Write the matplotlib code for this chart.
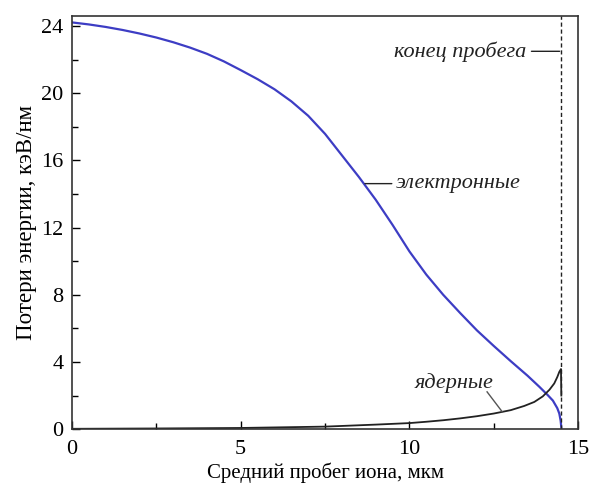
import matplotlib
matplotlib.use("Agg")
import matplotlib.pyplot as plt
from matplotlib.ticker import MultipleLocator

plt.rcParams['font.family'] = ['Liberation Serif', 'DejaVu Serif']

# Electronic stopping (keV/nm) vs mean ion range (um)
x_el = [0.0, 0.5, 1.0, 1.5, 2.0, 2.5, 3.0, 3.5, 4.0, 4.5, 5.0, 5.5, 6.0, 6.5,
        7.0, 7.5, 8.0, 8.5, 9.0, 9.5, 10.0, 10.5, 11.0, 11.5, 12.0, 12.5,
        13.0, 13.5, 13.85, 14.1, 14.25, 14.38, 14.44, 14.48, 14.5]
y_el = [24.22, 24.10, 23.95, 23.77, 23.56, 23.32, 23.04, 22.72, 22.35, 21.90,
        21.38, 20.84, 20.24, 19.52, 18.66, 17.58, 16.30, 15.02, 13.66, 12.16,
        10.58, 9.20, 8.00, 6.92, 5.88, 4.95, 4.05, 3.18, 2.52, 2.02, 1.70,
        1.25, 0.93, 0.50, 0.10]

# Nuclear stopping
x_nu = [0.0, 2.5, 5.0, 7.5, 9.0, 10.0, 10.5, 11.0, 11.5, 12.0, 12.5, 13.0,
        13.4, 13.7, 13.95, 14.15, 14.29, 14.38, 14.44, 14.49, 14.5]
y_nu = [0.02, 0.04, 0.07, 0.15, 0.27, 0.36, 0.44, 0.53, 0.64, 0.77, 0.93,
        1.13, 1.38, 1.62, 1.95, 2.35, 2.72, 3.10, 3.41, 3.58, 2.0]

range_end = 14.5

xlabel = "Средний пробег иона, мкм"
ylabel = "Потери энергии, кэВ/нм"
lbl_end = "конец пробега"
lbl_el = "электронные"
lbl_nu = "ядерные"

fig = plt.figure(figsize=(5.9, 4.86), dpi=100)
ax = fig.add_axes([0.122, 0.117, 0.858, 0.850])

ax.plot(x_el, y_el, color='#3d3dc4', lw=1.6)
ax.plot(x_nu, y_nu, color='#222222', lw=1.3)
ax.axvline(range_end, color='#222222', lw=1.0, ls=(0, (3, 2)))

ax.set_xlim(0, 15)
ax.set_ylim(0, 24.6)
ax.xaxis.set_major_locator(MultipleLocator(5))
ax.xaxis.set_minor_locator(MultipleLocator(2.5))
ax.yaxis.set_major_locator(MultipleLocator(4))
ax.yaxis.set_minor_locator(MultipleLocator(2))
ax.tick_params(which='both', direction='in', top=False, right=False,
               labelsize=16, width=1.0)
ax.tick_params(axis='x', which='both', pad=8)
ax.tick_params(axis='y', which='both', pad=6)
ax.tick_params(which='major', length=6)
ax.tick_params(which='minor', length=4)
for s in ax.spines.values():
    s.set_linewidth(1.2)
    s.set_color('#333333')

ax.set_xlabel(xlabel, fontsize=15, labelpad=2)
ax.set_ylabel(ylabel, fontsize=16.5, labelpad=3)

fs_ann = 16
ax.annotate(lbl_end, xy=(range_end - 0.05, 22.5), xytext=(13.45, 22.5),
            fontsize=fs_ann, style='italic', ha='right', va='center',
            color='#222222',
            arrowprops=dict(arrowstyle='-', color='#222222', lw=1.0,
                            shrinkA=2, shrinkB=0))
ax.annotate(lbl_el, xy=(8.68, 14.62), xytext=(9.6, 14.62),
            fontsize=fs_ann, style='italic', ha='left', va='center',
            color='#222222',
            arrowprops=dict(arrowstyle='-', color='#222222', lw=1.0,
                            shrinkA=1, shrinkB=0))
ax.text(10.15, 2.74, lbl_nu, fontsize=fs_ann, style='italic', ha='left',
        va='center', color='#222222')
ax.plot([12.3, 12.75], [2.22, 1.03], color='#555555', lw=1.0)

fig.savefig("out.png", dpi=100)
